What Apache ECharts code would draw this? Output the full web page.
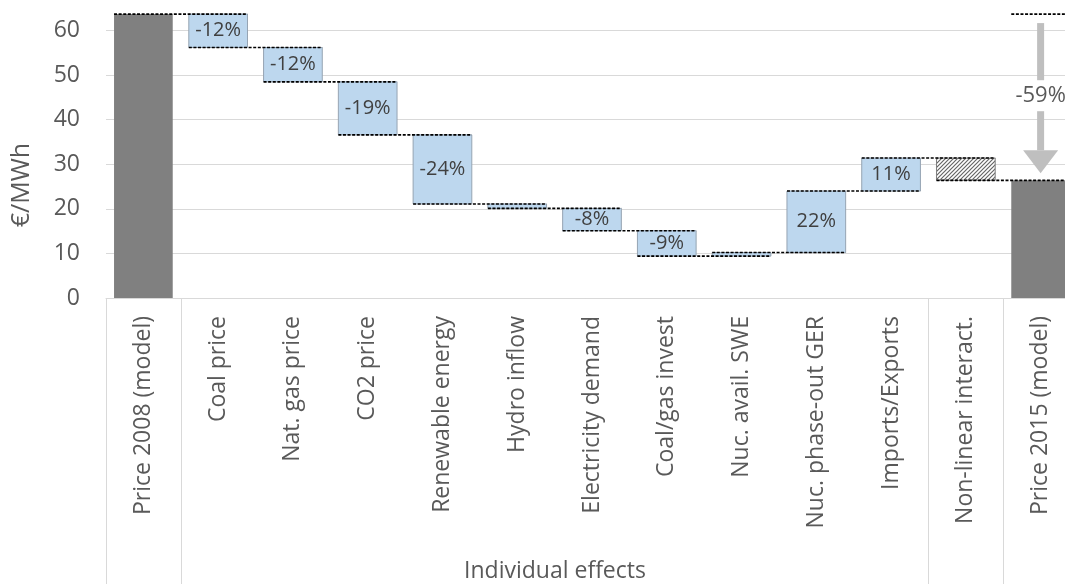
<!DOCTYPE html>
<html><head><meta charset="utf-8">
<script src="https://cdn.jsdelivr.net/npm/echarts@6/dist/echarts.min.js"></script>
<style>html,body{margin:0;padding:0;background:#fff}#c{width:1065px;height:584px}</style>
</head><body><div id="c"></div>
<script>
// ---- data ----
const categories = ['Price 2008 (model)','Coal price','Nat. gas price','CO2 price','Renewable energy','Hydro inflow','Electricity demand','Coal/gas invest','Nuc. avail. SWE','Nuc. phase-out GER','Imports/Exports','Non-linear interact.','Price 2015 (model)'];
const price2008 = 63.7;
const effectValues = [-7.5, -7.7, -11.9, -15.5, -1.0, -5.0, -5.7, 0.8, 13.8, 7.4];
const effectLabels = ['-12%','-12%','-19%','-24%','','-8%','-9%','','22%','11%'];
const nonLinearValue = -5.0;
const price2015 = 26.4;
const totalChangeLabel = '-59%';
const groupLabel = 'Individual effects';
const yAxisName = '€/MWh';
const groupSeparators = [0, 1, 11, 12, 13];

// ---- derived ----
const bars = [], barKinds = [], barLabels = [];
const levels = [price2008];
bars.push([0, 0, price2008]); barKinds.push('total'); barLabels.push('');
let level = price2008;
effectValues.forEach((v, k) => {
  const nl = level + v;
  bars.push([k + 1, Math.min(level, nl), Math.max(level, nl)]);
  barKinds.push('effect'); barLabels.push(effectLabels[k]);
  level = nl; levels.push(level);
});
{
  const nl = level + nonLinearValue;
  bars.push([11, Math.min(level, nl), Math.max(level, nl)]);
  barKinds.push('hatch'); barLabels.push('');
  level = nl; levels.push(level);
}
bars.push([12, 0, price2015]); barKinds.push('total'); barLabels.push('');
const levelLines = levels.map((v, i) => [i, v, 2]);
levelLines.push([12, price2008, 1]);

// hatch pattern
const pc = document.createElement('canvas');
pc.width = 4; pc.height = 4;
const g = pc.getContext('2d');
g.fillStyle = '#ffffff'; g.fillRect(0, 0, 4, 4);
g.strokeStyle = '#666666'; g.lineWidth = 1.2;
g.beginPath();
g.moveTo(0, 4); g.lineTo(4, 0);
g.moveTo(-1, 1); g.lineTo(1, -1);
g.moveTo(3, 5); g.lineTo(5, 3);
g.stroke();

const BAR_RATIO = 0.785;
const FONT = '"Open Sans", "Noto Sans", sans-serif';

const chart = echarts.init(document.getElementById('c'), null, {renderer: 'canvas'});
chart.setOption({
  animation: false,
  backgroundColor: '#ffffff',
  grid: {left: 106, right: -13, top: -14, bottom: 286, containLabel: false, outerBoundsMode: 'none'},
  xAxis: {
    type: 'category', data: categories,
    axisLine: {show: true, lineStyle: {color: '#d9d9d9', width: 1}},
    axisTick: {show: false},
    axisLabel: {rotate: 90, margin: 18, color: '#595959', fontSize: 23, fontFamily: FONT, interval: 0}
  },
  yAxis: {
    type: 'value', min: 0, max: 70, interval: 10,
    axisLine: {show: false}, axisTick: {show: false},
    axisLabel: {color: '#595959', fontSize: 23, fontFamily: FONT, margin: 26},
    splitLine: {lineStyle: {color: '#d9d9d9', width: 1}}
  },
  graphic: [
    {type: 'text', x: 22, y: 185, rotation: Math.PI / 2,
     style: {text: yAxisName, fill: '#595959', font: '25px ' + FONT, align: 'center', verticalAlign: 'middle'}},
    {type: 'text', x: 555, y: 571,
     style: {text: groupLabel, fill: '#595959', font: '23px ' + FONT, align: 'center', verticalAlign: 'middle'}}
  ],
  series: [
    { // group separators below axis
      type: 'custom', clip: false, silent: true, z: 1,
      data: groupSeparators.map(b => [b]),
      renderItem: (params, api) => {
        const band = api.size([1, 0])[0];
        const p = api.coord([0, 0]);
        const x = Math.round(p[0] - band / 2 + api.value(0) * band) + 0.5;
        return {type: 'line', shape: {x1: x, y1: p[1], x2: x, y2: api.getHeight()},
                style: {stroke: '#d9d9d9', lineWidth: 1}};
      }
    },
    { // bars
      type: 'custom', z: 3,
      data: bars,
      renderItem: (params, api) => {
        const i = api.value(0), lo = api.value(1), hi = api.value(2);
        const kind = barKinds[params.dataIndex];
        const band = api.size([1, 0])[0];
        const w = band * BAR_RATIO;
        const pt = api.coord([i, hi]), pb = api.coord([i, lo]);
        let style;
        if (kind === 'total') style = {fill: '#808080'};
        else if (kind === 'hatch') style = {fill: {image: pc, repeat: 'repeat'}, stroke: '#7f7f7f', lineWidth: 1};
        else style = {fill: '#BDD7EE', stroke: '#96a4b3', lineWidth: 1};
        const el = {type: 'rect', shape: {x: pt[0] - w / 2, y: pt[1], width: w, height: pb[1] - pt[1]}, style};
        const lab = barLabels[params.dataIndex];
        if (lab) {
          el.textContent = {style: {text: lab, fill: '#404040', font: '20px ' + FONT}};
          el.textConfig = {position: 'inside'};
        }
        return el;
      }
    },
    { // dashed level connectors
      type: 'custom', z: 4, clip: false,
      data: levelLines,
      renderItem: (params, api) => {
        const i = api.value(0), v = api.value(1), span = api.value(2);
        const band = api.size([1, 0])[0];
        const w = band * BAR_RATIO;
        const p = api.coord([i, v]);
        const x1 = p[0] - w / 2;
        const x2 = p[0] + (span - 1) * band + w / 2;
        return {type: 'line', shape: {x1, y1: p[1], x2, y2: p[1]},
                style: {stroke: '#000000', lineWidth: 1.6, lineDash: [3, 1.6]}};
      }
    },
    { // total change arrow
      type: 'custom', z: 5, clip: false,
      data: [[12, price2008, price2015]],
      renderItem: (params, api) => {
        const i = api.value(0);
        const top = api.coord([i, api.value(1)]);
        const bot = api.coord([i, api.value(2)]);
        const cx = top[0];
        const mid = (top[1] + bot[1]) / 2;
        const col = '#bfbfbf';
        return {type: 'group', children: [
          {type: 'rect', shape: {x: cx - 3.5, y: top[1] + 9, width: 7, height: (mid - 17) - (top[1] + 9)}, style: {fill: col}},
          {type: 'rect', shape: {x: cx - 3.5, y: mid + 14, width: 7, height: (bot[1] - 30) - (mid + 14)}, style: {fill: col}},
          {type: 'polygon', shape: {points: [[cx - 17.5, bot[1] - 30], [cx + 17.5, bot[1] - 30], [cx, bot[1] - 7]]}, style: {fill: col}},
          {type: 'text', x: cx, y: mid - 1, style: {text: totalChangeLabel, fill: '#595959', font: '22px ' + FONT, align: 'center', verticalAlign: 'middle'}}
        ]};
      }
    }
  ]
});
</script>
</body></html>
